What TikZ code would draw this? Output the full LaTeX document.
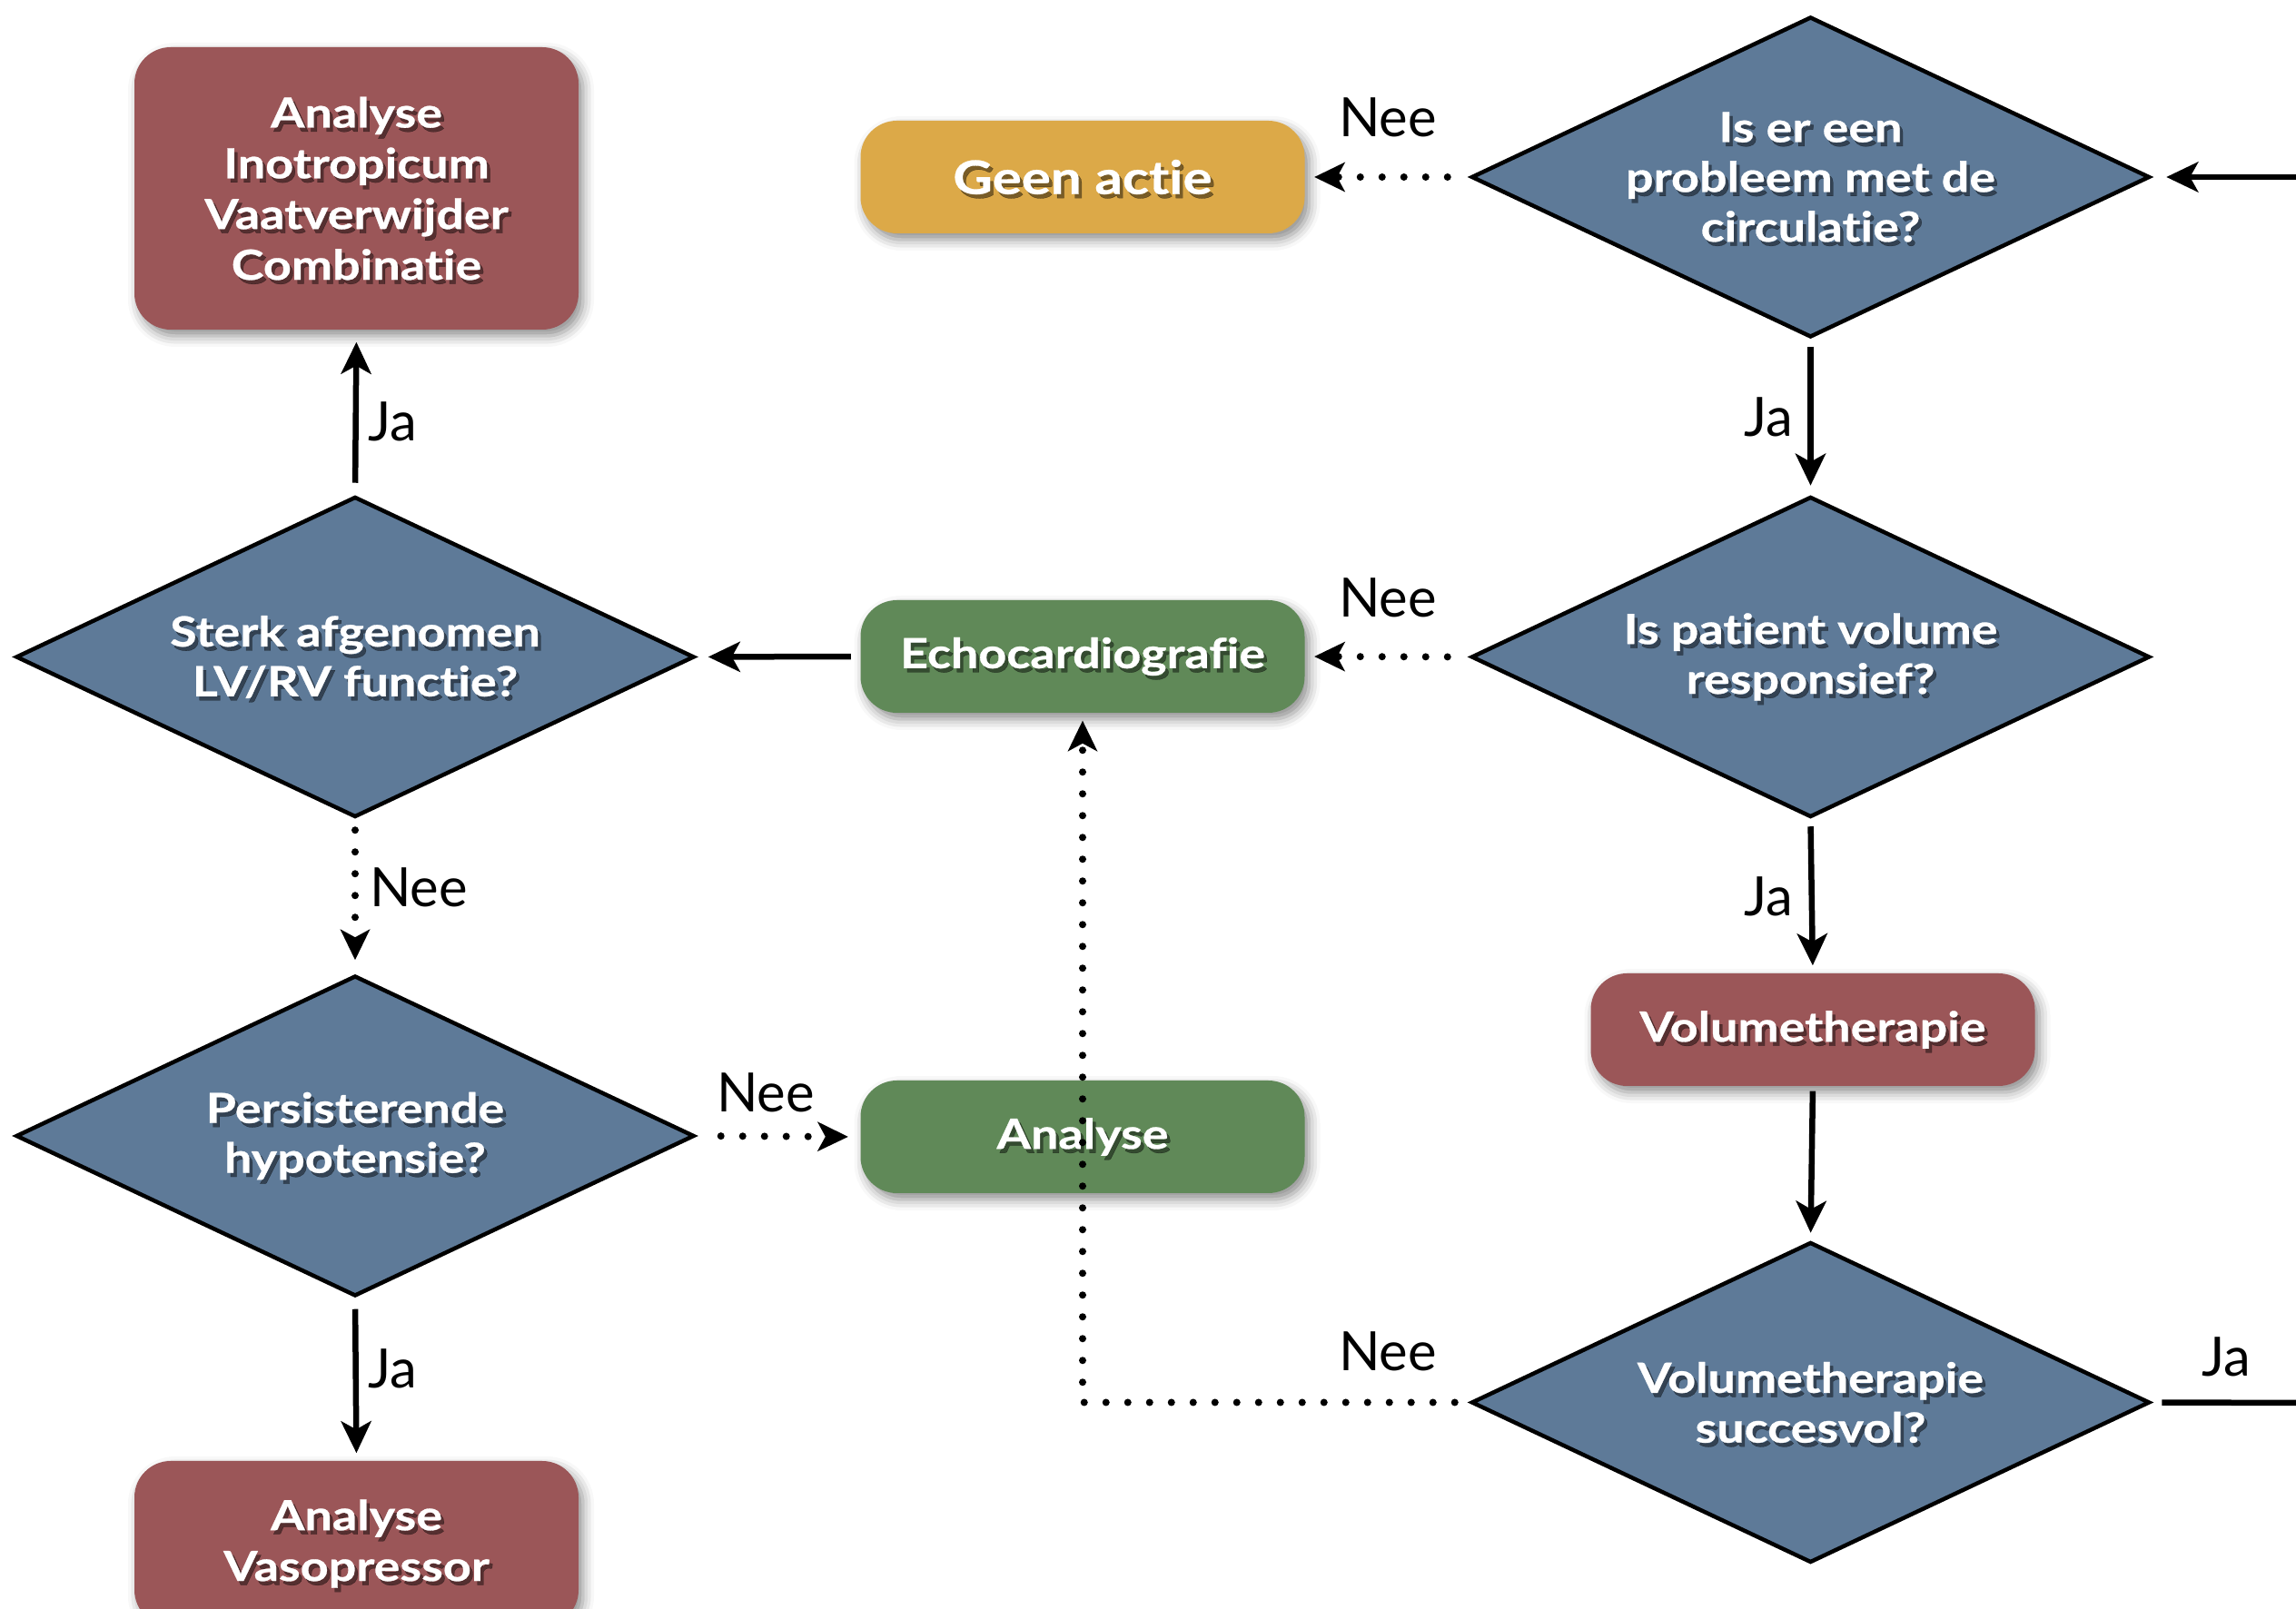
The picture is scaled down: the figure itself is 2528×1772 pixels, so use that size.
\documentclass[tikz,border=0pt]{standalone}
\usepackage{fontspec}
\setmainfont{Lato}
\newfontfamily\boxfont{Lato}[FakeStretch=1.18, FakeBold=0.6, Ligatures=NoCommon]
\usetikzlibrary{shapes.geometric,arrows.meta,shadows.blur}
\definecolor{cred}{RGB}{155,86,88}
\definecolor{cblue}{RGB}{94,122,152}
\definecolor{cgreen}{RGB}{96,137,88}
\definecolor{cyellow}{RGB}{220,169,72}
\begin{document}
\begin{tikzpicture}[x=0.1mm,y=-0.1mm,
  tsh/.style n args={2}{path picture={\node[text=black, text opacity=0.45, inner sep=0pt, align=center]
      (#1) at ([shift={(0.35mm,-0.45mm)}]path picture bounding box.center) {#2};}},
  box/.style={rounded corners=4mm, minimum width=48.9mm, minimum height=12.4mm,
    text=white, font=\boxfont\bfseries\fontsize{13}{15.9}\selectfont, align=center, inner sep=0pt,
    blur shadow={shadow xshift=0.5mm, shadow yshift=-0.7mm, shadow blur radius=1.2mm, shadow opacity=45}},
  dia/.style={diamond, draw=black, line width=0.45mm, fill=cblue, minimum width=74.7mm,
    minimum height=35.3mm, aspect=2.12, inner sep=0pt, text=white,
    font=\boxfont\bfseries\fontsize{13}{15.6}\selectfont, align=center},
  conn/.style={line width=0.65mm, -{Stealth[length=3.5mm,width=3.3mm,inset=0.9mm]}},
  plain/.style={line width=0.65mm},
  dots/.style={line width=0.8mm, line cap=round, dash pattern=on 0pt off 2.4mm,
    -{Stealth[length=3.4mm,width=3.3mm,inset=0.9mm,line width=0pt]}},
  lbl/.style={font=\fontsize{17}{20}\selectfont, inner sep=0pt}]
\useasboundingbox (0,0) rectangle (2528,1772);
\clip (0,0) rectangle (2528,1772);

% nodes
\node[box, fill=cred, minimum height=31.1mm, tsh={s1}{Analyse\\Inotropicum\\Vaatverwijder\\Combinatie}] (inotrop) at (392.5,207.5) {Analyse\\Inotropicum\\Vaatverwijder\\Combinatie};
\node[box, fill=cyellow, font=\boxfont\bfseries\fontsize{14.5}{17}\selectfont, tsh={s2}{Geen actie}] (geen) at (1192,195) {Geen actie};
\node[dia, tsh={s3}{Is er een\\probleem met de\\circulatie?}] (d1) at (1993.5,195) {Is er een\\probleem met de\\circulatie?};
\node[dia, tsh={s4}{Is patient volume\\responsief?}] (d2) at (1993.5,723.5) {Is patient volume\\responsief?};
\node[box, fill=cgreen, tsh={s5}{Echocardiografie}] (echo) at (1192,723) {Echocardiografie};
\node[dia, tsh={s6}{Sterk afgenomen\\LV/RV functie?}] (sterk) at (391,723.5) {Sterk afgenomen\\LV/RV functie?};
\node[box, fill=cred, tsh={s7}{Volumetherapie}] (volume) at (1996,1134) {Volumetherapie};
\node[dia, tsh={s8}{Volumetherapie\\succesvol?}] (d4) at (1993.5,1544.5) {Volumetherapie\\succesvol?};
\node[dia, tsh={s9}{Persisterende\\hypotensie?}] (pers) at (391,1251) {Persisterende\\hypotensie?};
\node[box, fill=cgreen, tsh={s10}{Analyse}] (analyse) at (1192,1252) {Analyse};
\node[box, fill=cred, minimum height=18.2mm, tsh={s11}{Analyse\\Vasopressor}] (vaso) at (392.5,1700) {Analyse\\Vasopressor};

\coordinate (inR) at (2540,195);
\coordinate (outR) at (2540,1545);

% connectors
\draw[dots, shorten <=2.4mm, shorten >=1mm] (d1.west) -- (geen.east);
\draw[conn, shorten <=0.8mm, shorten >=1mm] (d1.south) -- (d2.north);
\draw[dots, shorten <=2.4mm, shorten >=1mm] (d2.west) -- (echo.east);
\draw[conn, shorten <=0.8mm, shorten >=0.8mm] (d2.south) -- (volume.north);
\draw[conn, shorten <=0.5mm, shorten >=0.8mm] (volume.south) -- (d4.north);
\draw[dots, shorten <=1.6mm, shorten >=0.8mm] (d4.west) -| (echo.south);
\draw[plain, shorten <=1.1mm] (d4.east) -- (outR);
\draw[conn, shorten >=1.6mm] (inR) -- (d1.east);
\draw[conn, shorten <=1mm, shorten >=1.3mm] (echo.west) -- (sterk.east);
\draw[conn, shorten <=1.3mm, shorten >=1.3mm] (sterk.north) -- (inotrop.south);
\draw[dots, shorten <=1.2mm, shorten >=1.5mm] (sterk.south) -- (pers.north);
\draw[dots, shorten <=2.7mm, shorten >=1.3mm] (pers.east) -- (analyse.west);
\draw[conn, shorten <=1.2mm, shorten >=0.8mm] (pers.south) -- (vaso.north);

% labels
\node[lbl] (l1) at (1528,129) {Nee};
\node[lbl] (l2) at (1947,459) {Ja};
\node[lbl] (l3) at (1528,658) {Nee};
\node[lbl] (l4) at (1947,987) {Ja};
\node[lbl] (l5) at (1528,1488) {Nee};
\node[lbl] (l6) at (2451,1494) {Ja};
\node[lbl] (l7) at (432,464) {Ja};
\node[lbl] (l8) at (461,977) {Nee};
\node[lbl] (l9) at (843,1203) {Nee};
\node[lbl] (l10) at (432,1507) {Ja};
\end{tikzpicture}
\end{document}
